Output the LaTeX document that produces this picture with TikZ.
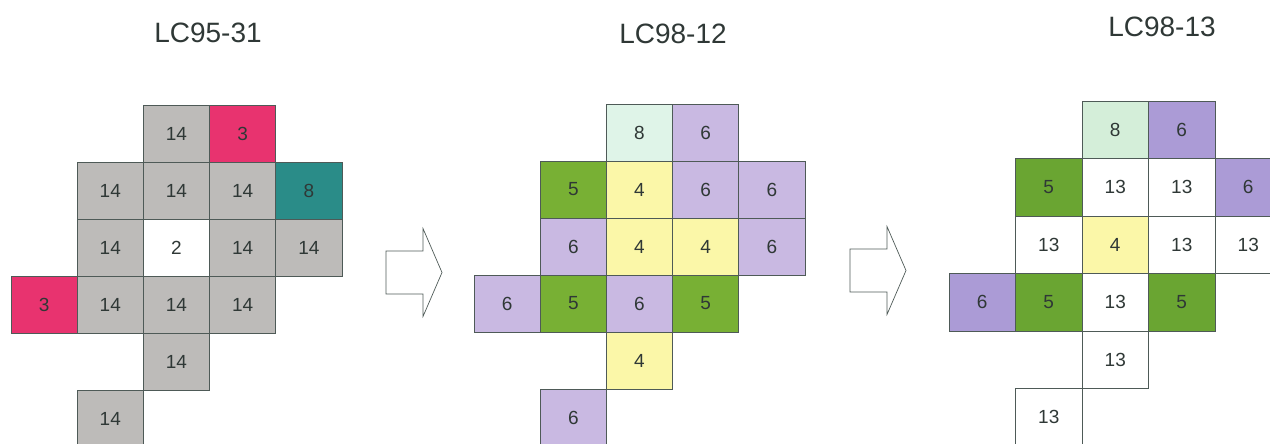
\documentclass[tikz,border=0pt]{standalone}
\usepackage{fontspec}
\setmainfont{Liberation Sans}
\definecolor{ink}{HTML}{2F3836}
\definecolor{edge}{HTML}{4E5A57}
\definecolor{cgray}{HTML}{BDBBB9}
\definecolor{cpink}{HTML}{E8336F}
\definecolor{cteal}{HTML}{2A8C88}
\definecolor{clav}{HTML}{C9B9E2}
\definecolor{clavdark}{HTML}{AB9BD6}
\definecolor{cgreen}{HTML}{78B034}
\definecolor{cgreendark}{HTML}{6AA532}
\definecolor{cyellow}{HTML}{FBF7A8}
\definecolor{cmint}{HTML}{DFF4E8}
\definecolor{cmintdark}{HTML}{D4EED9}

\begin{document}
\begin{tikzpicture}[x=1pt,y=-1pt,
  cell/.style={draw=edge,line width=0.7pt,minimum width=66.2pt,minimum height=57pt,inner sep=0pt,text=ink,font=\fontsize{19}{19}\selectfont},
  title/.style={text=ink,inner sep=0pt,font=\fontsize{28}{28}\selectfont},
  hollow/.style={draw=edge,line width=0.7pt,line join=miter}]
\useasboundingbox (0,0) rectangle (1270,444);
\clip (0,0) rectangle (1270,444);
% titles
\node[title] (ta) at (208,33) {LC95-31};
\node[title] (tb) at (673,34) {LC98-12};
\node[title] (tc) at (1162,27) {LC98-13};
% LC95-31
\foreach \r/\c/\v/\f in {0/2/14/cgray,0/3/3/cpink,
  1/1/14/cgray,1/2/14/cgray,1/3/14/cgray,1/4/8/cteal,
  2/1/14/cgray,2/2/2/white,2/3/14/cgray,2/4/14/cgray,
  3/0/3/cpink,3/1/14/cgray,3/2/14/cgray,3/3/14/cgray,
  4/2/14/cgray,5/1/14/cgray}
  \node[cell,fill=\f] (a\r\c) at (11+66.2*\c+33.1,105+57*\r+28.5) {\v};
% LC98-12
\foreach \r/\c/\v/\f in {0/2/8/cmint,0/3/6/clav,
  1/1/5/cgreen,1/2/4/cyellow,1/3/6/clav,1/4/6/clav,
  2/1/6/clav,2/2/4/cyellow,2/3/4/cyellow,2/4/6/clav,
  3/0/6/clav,3/1/5/cgreen,3/2/6/clav,3/3/5/cgreen,
  4/2/4/cyellow,5/1/6/clav}
  \node[cell,fill=\f] (b\r\c) at (474+66.2*\c+33.1,104+57*\r+28.5) {\v};
% LC98-13
\foreach \r/\c/\v/\f in {0/2/8/cmintdark,0/3/6/clavdark,
  1/1/5/cgreendark,1/2/13/white,1/3/13/white,1/4/6/clavdark,
  2/1/13/white,2/2/4/cyellow,2/3/13/white,2/4/13/white,
  3/0/6/clavdark,3/1/5/cgreendark,3/2/13/white,3/3/5/cgreendark,
  4/2/13/white,5/1/13/white}
  \node[cell,fill=\f,minimum height=57.5pt] (c\r\c) at (949+66.5*\c+33.25,101+57.5*\r+28.75) {\v};
% block arrows
\foreach \x/\y in {386/272.5,850/270.5}
  \draw[hollow,shift={(\x,\y)}] (0,-21.5) -- (37,-21.5) -- (37,-44) -- (56,0)
    -- (37,44) -- (37,21.5) -- (0,21.5) -- cycle;
\end{tikzpicture}
\end{document}
